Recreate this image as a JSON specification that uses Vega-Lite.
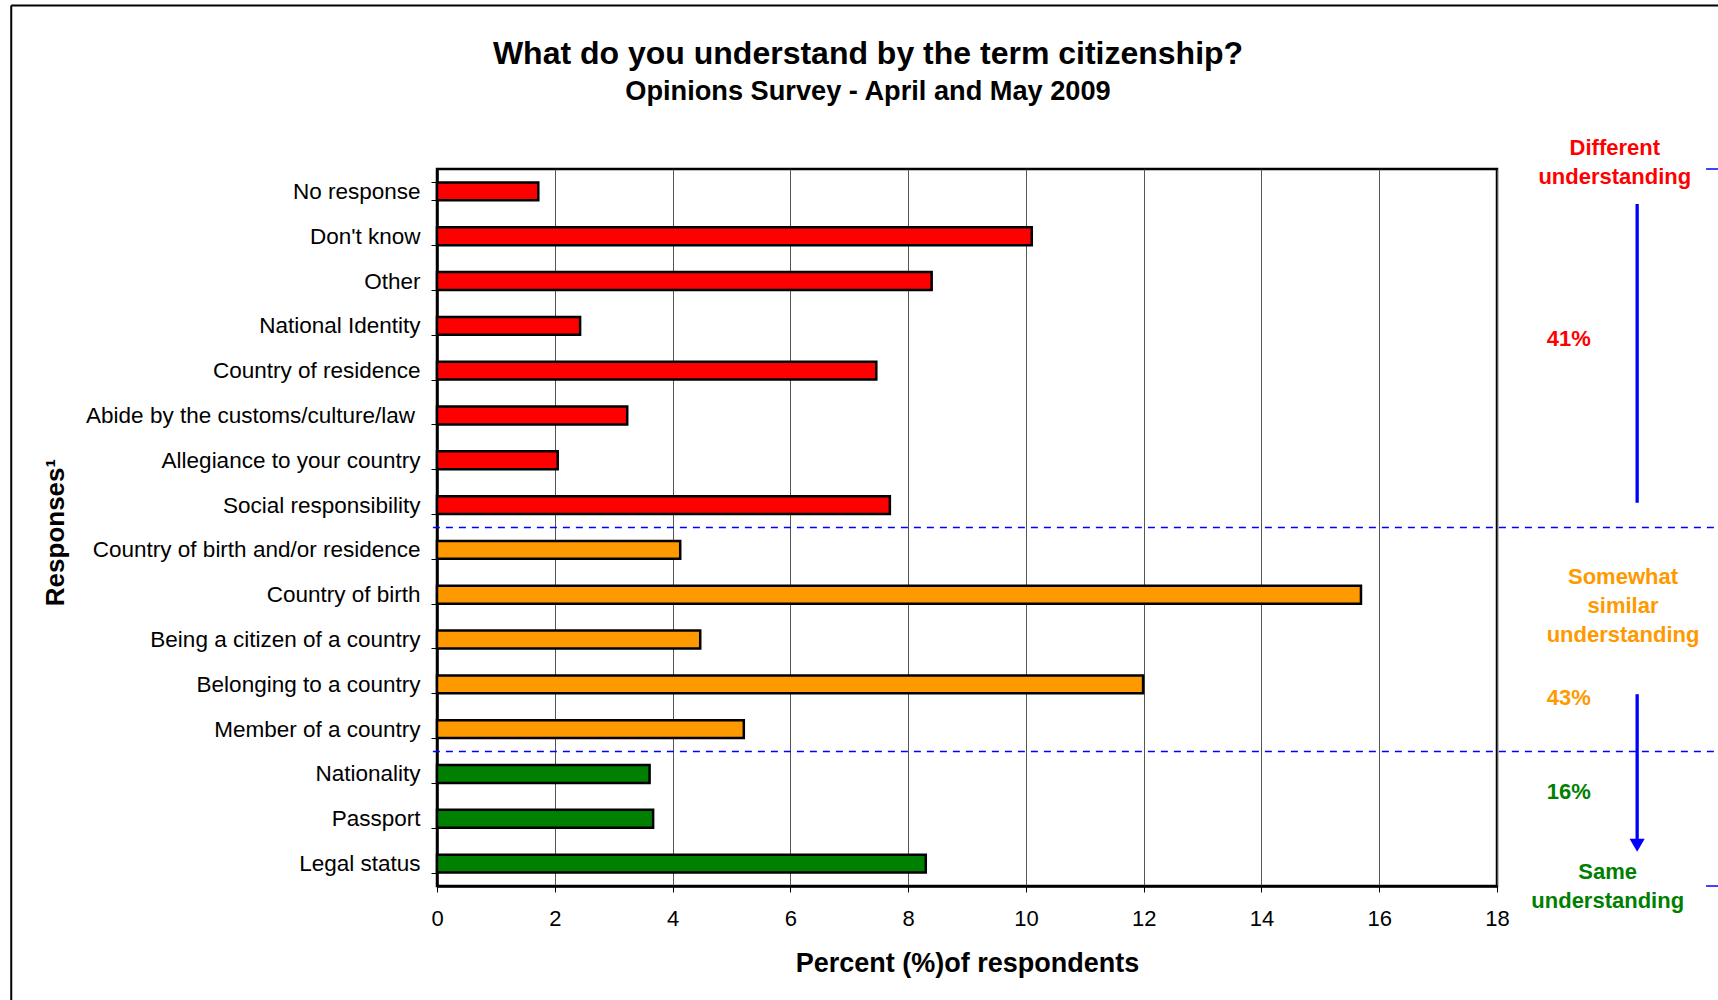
{
  "$schema": "https://vega.github.io/schema/vega-lite/v6.json",
  "width": 1060,
  "height": 717,
  "autosize": {"type": "none"},
  "padding": {"left": 437, "top": 169, "right": 221, "bottom": 114},
  "background": "white",
  "config": {"font": "Liberation Sans", "view": {"stroke": "#000", "strokeWidth": 2.5}},
  "title": {
    "text": "What do you understand by the term citizenship?",
    "subtitle": "Opinions Survey - April and May 2009",
    "font": "Liberation Sans", "fontSize": 32, "fontWeight": "bold", "color": "#000",
    "subtitleFont": "Liberation Sans", "subtitleFontSize": 27.2, "subtitleFontWeight": "bold", "subtitleColor": "#000",
    "subtitlePadding": 8, "anchor": "middle", "frame": "group", "dx": -99, "offset": -101.5
  },
  "resolve": {"scale": {"x": "independent", "y": "independent"}, "axis": {"x": "independent", "y": "independent"}},
  "layer": [
    {
      "data": {"values": [
        {"response": "No response", "percent": 1.72, "group": "Different"},
        {"response": "Don't know", "percent": 10.1, "group": "Different"},
        {"response": "Other", "percent": 8.4, "group": "Different"},
        {"response": "National Identity", "percent": 2.43, "group": "Different"},
        {"response": "Country of residence", "percent": 7.46, "group": "Different"},
        {"response": "Abide by the customs/culture/law", "percent": 3.23, "group": "Different"},
        {"response": "Allegiance to your country", "percent": 2.05, "group": "Different"},
        {"response": "Social responsibility", "percent": 7.69, "group": "Different"},
        {"response": "Country of birth and/or residence", "percent": 4.13, "group": "Somewhat similar"},
        {"response": "Country of birth", "percent": 15.69, "group": "Somewhat similar"},
        {"response": "Being a citizen of a country", "percent": 4.47, "group": "Somewhat similar"},
        {"response": "Belonging to a country", "percent": 11.99, "group": "Somewhat similar"},
        {"response": "Member of a country", "percent": 5.21, "group": "Somewhat similar"},
        {"response": "Nationality", "percent": 3.61, "group": "Same"},
        {"response": "Passport", "percent": 3.67, "group": "Same"},
        {"response": "Legal status", "percent": 8.3, "group": "Same"}
      ]},
      "mark": {"type": "bar", "stroke": "#000", "strokeWidth": 2.5},
      "encoding": {
        "y": {
          "field": "response", "type": "nominal", "sort": null,
          "scale": {"paddingInner": 0.6, "paddingOuter": 0.3},
          "axis": {
            "title": "Responses¹", "titleFont": "Liberation Sans", "titleFontSize": 26, "titleFontWeight": "bold", "titleColor": "#000",
            "titleX": -374, "titleY": 363, "titleAngle": -90, "titleAlign": "center", "titleBaseline": "alphabetic",
            "labelFont": "Liberation Sans", "labelFontSize": 22.5, "labelColor": "#000", "labelLimit": 600,
            "labelPadding": {"condition": {"test": "datum.value === 'Abide by the customs/culture/law'", "value": 16.5}, "value": 11},
            "tickBand": "extent", "tickSize": 6, "tickColor": "#000", "domainColor": "#000", "domainWidth": 2.5, "grid": false
          }
        },
        "x": {
          "field": "percent", "type": "quantitative",
          "scale": {"domain": [0, 18], "nice": false},
          "axis": {
            "values": [0, 2, 4, 6, 8, 10, 12, 14, 16, 18],
            "title": "Percent (%)of respondents", "titleFont": "Liberation Sans", "titleFontSize": 27, "titleFontWeight": "bold", "titleColor": "#000", "titlePadding": 21,
            "labelFont": "Liberation Sans", "labelFontSize": 22, "labelColor": "#000", "labelPadding": 16, "labelFlush": false,
            "tickSize": 6, "tickColor": "#000", "domainColor": "#000", "domainWidth": 2.5,
            "grid": true, "gridColor": "#555555", "gridWidth": 1
          }
        },
        "color": {
          "field": "group", "type": "nominal",
          "scale": {"domain": ["Different", "Somewhat similar", "Same"], "range": ["#ff0000", "#ff9900", "#008000"]},
          "legend": null
        }
      }
    },
    {
      "data": {"values": [{}]},
      "layer": [
        {
          "mark": {"type": "rule", "color": "#0000ff", "strokeWidth": 1.5, "strokeDash": [7, 6]},
          "encoding": {
            "x": {"datum": -0.07, "type": "quantitative", "scale": {"domain": [0, 18], "nice": false, "zero": false}, "axis": null},
            "x2": {"datum": 22},
            "y": {"datum": 8, "type": "quantitative", "scale": {"domain": [0, 16], "reverse": true, "nice": false, "zero": false}, "axis": null}
          }
        },
        {
          "mark": {"type": "rule", "color": "#0000ff", "strokeWidth": 1.5, "strokeDash": [7, 6]},
          "encoding": {
            "x": {"datum": -0.07, "type": "quantitative", "scale": {"domain": [0, 18], "nice": false, "zero": false}, "axis": null},
            "x2": {"datum": 22},
            "y": {"datum": 13, "type": "quantitative", "scale": {"domain": [0, 16], "reverse": true, "nice": false, "zero": false}, "axis": null}
          }
        },
        {
          "mark": {"type": "rule", "color": "#0000ff", "strokeWidth": 1.5},
          "encoding": {
            "x": {"datum": 21.55, "type": "quantitative", "scale": {"domain": [0, 18], "nice": false, "zero": false}, "axis": null},
            "x2": {"datum": 21.8},
            "y": {"datum": 0, "type": "quantitative", "scale": {"domain": [0, 16], "reverse": true, "nice": false, "zero": false}, "axis": null}
          }
        },
        {
          "mark": {"type": "rule", "color": "#0000ff", "strokeWidth": 1.5},
          "encoding": {
            "x": {"datum": 21.55, "type": "quantitative", "scale": {"domain": [0, 18], "nice": false, "zero": false}, "axis": null},
            "x2": {"datum": 21.8},
            "y": {"datum": 16, "type": "quantitative", "scale": {"domain": [0, 16], "reverse": true, "nice": false, "zero": false}, "axis": null}
          }
        },
        {
          "mark": {"type": "rule", "color": "#000", "strokeWidth": 2},
          "encoding": {
            "x": {"datum": -7.23, "type": "quantitative", "scale": {"domain": [0, 18], "nice": false, "zero": false}, "axis": null},
            "y": {"datum": -3.65, "type": "quantitative", "scale": {"domain": [0, 16], "reverse": true, "nice": false, "zero": false}, "axis": null},
            "y2": {"datum": 19.5}
          }
        },
        {
          "mark": {"type": "rule", "color": "#000", "strokeWidth": 2},
          "encoding": {
            "x": {"datum": -7.23, "type": "quantitative", "scale": {"domain": [0, 18], "nice": false, "zero": false}, "axis": null},
            "x2": {"datum": 22},
            "y": {"datum": -3.65, "type": "quantitative", "scale": {"domain": [0, 16], "reverse": true, "nice": false, "zero": false}, "axis": null}
          }
        },
        {
          "mark": {"type": "rule", "color": "#0000ff", "strokeWidth": 3.3},
          "encoding": {
            "x": {"datum": 20.38, "type": "quantitative", "scale": {"domain": [0, 18], "nice": false, "zero": false}, "axis": null},
            "y": {"datum": 0.78, "type": "quantitative", "scale": {"domain": [0, 16], "reverse": true, "nice": false, "zero": false}, "axis": null},
            "y2": {"datum": 7.45}
          }
        },
        {
          "mark": {"type": "rule", "color": "#0000ff", "strokeWidth": 3.3},
          "encoding": {
            "x": {"datum": 20.38, "type": "quantitative", "scale": {"domain": [0, 18], "nice": false, "zero": false}, "axis": null},
            "y": {"datum": 11.72, "type": "quantitative", "scale": {"domain": [0, 16], "reverse": true, "nice": false, "zero": false}, "axis": null},
            "y2": {"datum": 14.95}
          }
        },
        {
          "mark": {"type": "point", "shape": "triangle-down", "filled": true, "color": "#0000ff", "opacity": 1, "size": 230},
          "encoding": {
            "x": {"datum": 20.38, "type": "quantitative", "scale": {"domain": [0, 18], "nice": false, "zero": false}, "axis": null},
            "y": {"datum": 15.09, "type": "quantitative", "scale": {"domain": [0, 16], "reverse": true, "nice": false, "zero": false}, "axis": null}
          }
        },
        {
          "mark": {"type": "text", "font": "Liberation Sans", "fontSize": 22, "fontWeight": "bold", "color": "#ff0000", "align": "center", "baseline": "middle", "lineBreak": "\n", "lineHeight": 29},
          "encoding": {
            "x": {"datum": 20.0, "type": "quantitative", "scale": {"domain": [0, 18], "nice": false, "zero": false}, "axis": null},
            "y": {"datum": -0.47, "type": "quantitative", "scale": {"domain": [0, 16], "reverse": true, "nice": false, "zero": false}, "axis": null},
            "text": {"value": "Different\nunderstanding"}
          }
        },
        {
          "mark": {"type": "text", "font": "Liberation Sans", "fontSize": 22, "fontWeight": "bold", "color": "#ff0000", "align": "center", "baseline": "middle"},
          "encoding": {
            "x": {"datum": 19.22, "type": "quantitative", "scale": {"domain": [0, 18], "nice": false, "zero": false}, "axis": null},
            "y": {"datum": 3.79, "type": "quantitative", "scale": {"domain": [0, 16], "reverse": true, "nice": false, "zero": false}, "axis": null},
            "text": {"value": "41%"}
          }
        },
        {
          "mark": {"type": "text", "font": "Liberation Sans", "fontSize": 22, "fontWeight": "bold", "color": "#ff9900", "align": "center", "baseline": "middle", "lineBreak": "\n", "lineHeight": 29},
          "encoding": {
            "x": {"datum": 20.14, "type": "quantitative", "scale": {"domain": [0, 18], "nice": false, "zero": false}, "axis": null},
            "y": {"datum": 9.1, "type": "quantitative", "scale": {"domain": [0, 16], "reverse": true, "nice": false, "zero": false}, "axis": null},
            "text": {"value": "Somewhat\nsimilar\nunderstanding"}
          }
        },
        {
          "mark": {"type": "text", "font": "Liberation Sans", "fontSize": 22, "fontWeight": "bold", "color": "#ff9900", "align": "center", "baseline": "middle"},
          "encoding": {
            "x": {"datum": 19.22, "type": "quantitative", "scale": {"domain": [0, 18], "nice": false, "zero": false}, "axis": null},
            "y": {"datum": 11.81, "type": "quantitative", "scale": {"domain": [0, 16], "reverse": true, "nice": false, "zero": false}, "axis": null},
            "text": {"value": "43%"}
          }
        },
        {
          "mark": {"type": "text", "font": "Liberation Sans", "fontSize": 22, "fontWeight": "bold", "color": "#008000", "align": "center", "baseline": "middle"},
          "encoding": {
            "x": {"datum": 19.22, "type": "quantitative", "scale": {"domain": [0, 18], "nice": false, "zero": false}, "axis": null},
            "y": {"datum": 13.9, "type": "quantitative", "scale": {"domain": [0, 16], "reverse": true, "nice": false, "zero": false}, "axis": null},
            "text": {"value": "16%"}
          }
        },
        {
          "mark": {"type": "text", "font": "Liberation Sans", "fontSize": 22, "fontWeight": "bold", "color": "#008000", "align": "center", "baseline": "middle", "lineBreak": "\n", "lineHeight": 29},
          "encoding": {
            "x": {"datum": 19.88, "type": "quantitative", "scale": {"domain": [0, 18], "nice": false, "zero": false}, "axis": null},
            "y": {"datum": 15.69, "type": "quantitative", "scale": {"domain": [0, 16], "reverse": true, "nice": false, "zero": false}, "axis": null},
            "text": {"value": "Same\nunderstanding"}
          }
        }
      ]
    }
  ]
}
